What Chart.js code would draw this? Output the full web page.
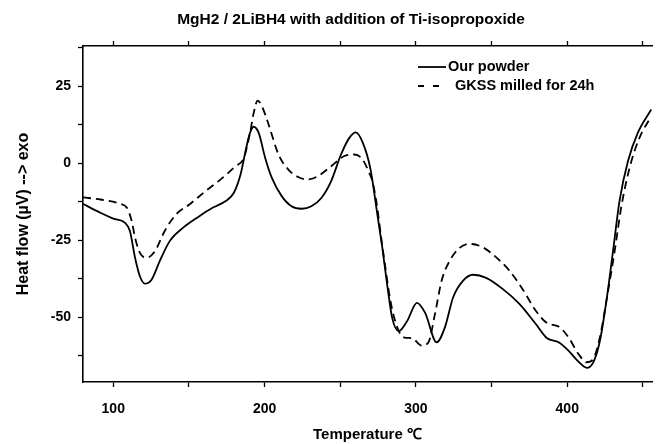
<!DOCTYPE html>
<html>
<head>
<meta charset="utf-8">
<script src="https://cdn.jsdelivr.net/npm/chart.js@4"></script>
<style>
  html, body { margin: 0; padding: 0; background: #fff; }
  #wrap { width: 657px; height: 444px; }
</style>
</head>
<body>
<div id="wrap"><canvas id="dsc"></canvas></div>
<script>
// ── data ──
const chartTitle = 'MgH2 / 2LiBH4 with addition of Ti-isopropoxide';
const seriesLabels = ['Our powder', 'GKSS milled for 24h'];

const ourTemp = [80, 91.5, 100, 107.8, 111, 114.4, 117.6, 120.9, 125.3, 130.7, 137.3, 146, 156.9, 165.6, 174.3, 179.7, 184.1, 187.4, 190, 192.8, 196.1, 200.4, 204.8, 211.3, 217.8, 224.4, 230.9, 237.5, 244, 250.5, 256, 260.3, 265, 270, 274.5, 277.8, 281, 284.3, 288.7, 294.1, 300.7, 306.1, 313.7, 319.2, 324.6, 331.2, 337.7, 346.4, 357.3, 368.2, 379.1, 386.7, 394.3, 400.8, 407.4, 412.9, 417.2, 421.6, 425.9, 430.3, 434.6, 440.1, 446.6, 455.5];
const ourFlow = [-13.2, -16.1, -18, -19.4, -22, -30.7, -36.7, -39.1, -37.8, -31.8, -25.3, -21, -17.2, -14.5, -12.3, -9.6, -3.7, 3.9, 9.3, 11.8, 9.8, 1.7, -4.8, -10.7, -14, -14.8, -14, -11.3, -5.8, 2.8, 8.2, 10, 6.5, -2, -16.6, -27.5, -39.4, -50.2, -54.5, -51.3, -45.3, -48.6, -58.1, -53.2, -43.5, -38.1, -36.2, -37.2, -40.8, -45.6, -52.1, -56.8, -58.1, -60.8, -64.4, -66.4, -64.6, -57.6, -44.6, -28.3, -12.1, 0.6, 9.8, 17.4];

const gkssTemp = [80, 91.5, 104.6, 109, 112.2, 114.4, 117.6, 122, 127.5, 134, 141.6, 150.3, 161.2, 172.1, 180.8, 186.3, 190.6, 192.8, 195.4, 198.2, 202.6, 209.2, 215.7, 222.2, 228.8, 235.3, 244, 252.7, 259.3, 264.7, 269.1, 271.2, 274.5, 275.6, 278.9, 283.2, 287.6, 292, 297.4, 303.9, 308.3, 312.6, 317, 322.4, 328.9, 335.5, 344.2, 352.9, 361.6, 370.4, 379.1, 386.7, 394.3, 400.8, 407.4, 412.9, 417.2, 421.6, 425.9, 431.4, 435.7, 441.2, 447.7, 455.5];
const gkssFlow = [-11.1, -11.8, -13.2, -14.5, -18.8, -24.2, -29.1, -30.7, -28.6, -22, -16.6, -13.4, -9, -4.8, -1, 1.7, 10.4, 16.3, 20.3, 18.5, 12.6, 2.8, -2.1, -4.5, -5.3, -4.2, -1, 2.3, 2.8, 1.2, -3.1, -5.8, -14.5, -18.8, -30.7, -44.8, -53.2, -56.5, -56.8, -59.2, -58.1, -48.9, -38.1, -31.6, -27.5, -26.2, -27.3, -30.5, -34.8, -40.8, -47.8, -51.9, -53, -56.5, -61.9, -64.6, -63.5, -56.5, -44.6, -28.3, -14.2, -1.5, 8.2, 15.2];

const xTicks = [100, 150, 200, 250, 300, 350, 400, 450];
const yTicks = [-62.5, -50, -37.5, -25, -12.5, 0, 12.5, 25, 37.5];

const FONT = "'Liberation Sans', Arial, sans-serif";

const toPoints = (xs, ys) => xs.map((x, i) => ({ x, y: ys[i] }));

// title + legend are drawn by hand so they can sit where the original has them
const decorations = {
    id: 'decorations',
    afterDraw(chart) {
        const ctx = chart.ctx;
        ctx.save();
        ctx.fillStyle = '#000';
        ctx.textBaseline = 'middle';

        ctx.font = `bold 15.5px ${FONT}`;
        ctx.textAlign = 'center';
        ctx.fillText(chartTitle, 351, 20);

        ctx.font = `bold 14.5px ${FONT}`;
        ctx.textAlign = 'left';
        ctx.strokeStyle = '#000';
        ctx.lineWidth = 1.8;

        // solid entry
        ctx.beginPath();
        ctx.moveTo(418, 67); ctx.lineTo(446, 67);
        ctx.stroke();
        ctx.fillText(chart.data.datasets[0].label, 448, 67);

        // dashed entry
        ctx.setLineDash([6, 9]);
        ctx.beginPath();
        ctx.moveTo(418, 86); ctx.lineTo(441, 86);
        ctx.stroke();
        ctx.setLineDash([]);
        ctx.fillText(chart.data.datasets[1].label, 455, 86);

        ctx.restore();
    }
};

const tickStyle = { color: '#000', font: { family: FONT, size: 14, weight: 'bold' } };
const gridStyle = { drawOnChartArea: false, tickLength: 5, tickColor: '#000', tickWidth: 1.3 };
const borderStyle = { color: '#000', width: 1.6 };

new Chart(document.getElementById('dsc'), {
    type: 'line',
    data: {
        datasets: [
            {
                label: seriesLabels[0],
                data: toPoints(ourTemp, ourFlow),
                borderColor: '#000',
                borderWidth: 1.8,
                pointRadius: 0,
                fill: false,
                cubicInterpolationMode: 'monotone'
            },
            {
                label: seriesLabels[1],
                data: toPoints(gkssTemp, gkssFlow),
                borderColor: '#000',
                borderWidth: 1.8,
                borderDash: [8, 5],
                pointRadius: 0,
                fill: false,
                cubicInterpolationMode: 'monotone'
            }
        ]
    },
    options: {
        responsive: true,
        maintainAspectRatio: false,
        animation: false,
        layout: { padding: 0 },
        plugins: {
            legend: { display: false },
            title: { display: false },
            tooltip: { enabled: false }
        },
        scales: {
            x: {
                type: 'linear',
                position: 'bottom',
                min: 80, max: 456,
                afterBuildTicks: s => { s.ticks = xTicks.map(v => ({ value: v })); },
                afterFit: s => { s.height = 62; },
                ticks: { ...tickStyle, padding: 14, maxRotation: 0, callback: v => (v % 100 === 0 ? v : '') },
                grid: gridStyle,
                border: borderStyle,
                title: {
                    display: true,
                    text: 'Temperature ℃',
                    color: '#000',
                    font: { family: FONT, size: 15, weight: 'bold' },
                    padding: { top: 0, bottom: 0 }
                }
            },
            x2: {
                type: 'linear',
                position: 'top',
                min: 80, max: 456,
                afterBuildTicks: s => { s.ticks = xTicks.map(v => ({ value: v })); },
                afterFit: s => { s.height = 46; },
                ticks: { display: false },
                grid: gridStyle,
                border: borderStyle
            },
            y: {
                min: -71, max: 38,
                afterBuildTicks: s => { s.ticks = yTicks.map(v => ({ value: v })); },
                afterFit: s => { s.width = 83; },
                ticks: { ...tickStyle, padding: 7, callback: v => (v % 25 === 0 ? v : '') },
                grid: gridStyle,
                border: borderStyle,
                title: {
                    display: true,
                    text: 'Heat flow (µV) --> exo',
                    color: '#000',
                    font: { family: FONT, size: 16, weight: 'bold' },
                    padding: { top: 14, bottom: 0 }
                }
            }
        }
    },
    plugins: [decorations]
});
</script>
</body>
</html>
